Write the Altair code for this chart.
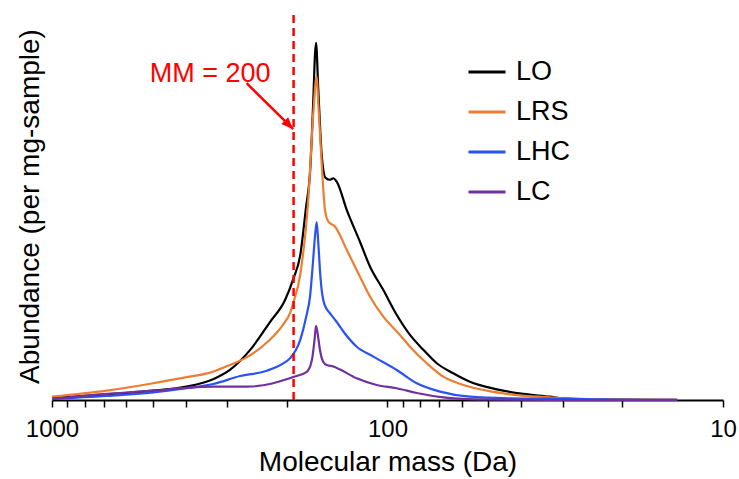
import altair as alt
import pandas as pd

FONT = "Liberation Sans"

series_names = ["LO", "LRS", "LHC", "LC"]
series_colors = ["#000000", "#ED7D31", "#2A52F5", "#7030A0"]

lo_mass = [1000, 687, 499, 397, 331, 295, 257, 224, 202, 191, 182, 175, 170, 166.4,
           164.5, 163.3, 160.8, 157.1, 153, 148.4, 145, 141.7, 132.3, 120.8, 112.8, 102.9,
           93.9, 85.7, 78.2, 71.3, 63.7, 56.8, 47.2, 39.4, 32.8, 30, 20.3, 13.7]
lo_ab = [0.45, 1.5, 2.45, 3.5, 5.45, 7.9, 13.1, 20.5, 26.3, 31.8, 38.1, 50.5, 60.5, 78.9,
         90.8, 93.9, 81.6, 64.5, 58.4, 57.9, 58.3, 57.4, 50.0, 41.6, 35.1, 28.9,
         22.4, 17.1, 13.2, 9.66, 7.03, 4.8, 2.8, 1.6, 0.87, 0.45, 0.13, 0.05]

lrs_mass = [1000, 687, 499, 397, 338, 295, 263, 229, 204, 195, 191, 182, 172, 166.4, 162.6,
            160.8, 157.1, 153.6, 150.1, 143.4, 132.3, 120.8, 112.8, 102.9, 91.8, 85.7, 76.4,
            68.2, 59.4, 50.6, 41.2, 32.8, 30, 20.3, 13.7]
lrs_ab = [0.87, 2.45, 4.4, 6.0, 7.2, 9.2, 11.2, 15.1, 20.0, 23.0, 25.5, 33.0, 53.5, 75.4, 85.1,
          78.0, 62.3, 50.0, 46.9, 45.6, 39.5, 32.4, 27.2, 21.9, 17.1, 14.0, 9.66,
          6.13, 3.95, 2.45, 1.3, 0.7, 0.45, 0.13, 0.05]

lhc_mass = [1000, 687, 499, 397, 331, 275, 229, 204, 195, 182, 175, 170, 166.6,
            164.5, 162.6, 160.8, 159, 157.1, 155.4, 151.8, 148.4, 141.7, 135.4, 123.5, 110.2,
            93.9, 81.8, 69.7, 56.8, 43.1, 32.8, 20.3, 13.7]
lhc_ab = [0.26, 1.05, 2.0, 3.1, 4.2, 6.3, 7.7, 9.7, 11.0, 15.8, 21.6, 27.6, 36.8,
          43.0, 46.8, 41.3, 34.2, 28.9, 26.3, 23.9, 22.8, 20.5, 18.0, 14.0, 11.4,
          7.9, 4.4, 2.2, 0.87, 0.45, 0.34, 0.08, 0.03]

lc_mass = [1000, 687, 499, 397, 331, 263, 219, 200, 191, 174, 168, 165, 163.3, 160.8, 159,
           155.4, 151.8, 145, 138.5, 123.5, 107.7, 93.9, 81.8, 68.2, 54.2, 32.8, 13.7]
lc_ab = [0.26, 1.6, 2.45, 3.2, 3.5, 3.5, 4.4, 5.45, 6.05, 7.4, 10.5, 15.8, 19.5, 16.3, 13.2,
         10.0, 9.2, 8.8, 8.0, 5.7, 3.95, 3.1, 1.85, 0.7, 0.18, 0.0, 0.0]

tick_values = [1000, 900, 800, 700, 600, 500, 400, 300, 200,
               100, 90, 80, 70, 60, 50, 40, 30, 20, 10]
label_values = [1000, 100, 10]

mm_line_mass = 190.5
y_top = 102
arrow_start = (263, 83.3)
arrow_end = (191, 71.2)
mm_text_pos = (338, 83.7)
mm_text = "MM = 200"

rows = []
for name, ms, ab in [("LO", lo_mass, lo_ab), ("LRS", lrs_mass, lrs_ab),
                     ("LHC", lhc_mass, lhc_ab), ("LC", lc_mass, lc_ab)]:
    for m, a in zip(ms, ab):
        rows.append({"series": name, "mass": m, "abundance": a})
df = pd.DataFrame(rows)

x_scale = alt.Scale(type="log", domain=[10, 1000], reverse=True, nice=False)
y_scale = alt.Scale(domain=[0, y_top], nice=False)

label_expr = "indexof([" + ",".join(str(v) for v in label_values) + "], datum.value) >= 0 ? datum.label : ''"

lines = alt.Chart(df).mark_line(strokeWidth=2.2, interpolate="monotone").encode(
    x=alt.X("mass:Q", scale=x_scale,
            axis=alt.Axis(values=tick_values, format="d", labelExpr=label_expr,
                          title="Molecular mass (Da)", labelOverlap=False, labelFlush=False,
                          tickSize=7, tickWidth=1.5, domainWidth=2, labelPadding=10,
                          titlePadding=7)),
    y=alt.Y("abundance:Q", scale=y_scale,
            axis=alt.Axis(labels=False, ticks=False, domain=False, grid=False,
                          title="Abundance (per mg-sample)", titlePadding=8)),
    color=alt.Color("series:N",
                    scale=alt.Scale(domain=series_names, range=series_colors),
                    legend=alt.Legend(title=None, orient="none", legendX=415, legendY=40,
                                      symbolType="stroke", symbolSize=1369,
                                      symbolStrokeWidth=3, labelFontSize=27,
                                      labelFont=FONT, labelColor="#000000",
                                      labelOffset=9, rowPadding=7, padding=0)),
)

vline = alt.Chart(pd.DataFrame({"mass": [mm_line_mass], "y0": [0], "y1": [y_top]})).mark_rule(
    color="#FF0000", strokeWidth=2.5, strokeDash=[8, 5]
).encode(x=alt.X("mass:Q", scale=x_scale), y=alt.Y("y0:Q", scale=y_scale), y2="y1:Q")

arrow_df = pd.DataFrame({"x0": [arrow_start[0]], "y0": [arrow_start[1]],
                         "x1": [arrow_end[0]], "y1": [arrow_end[1]]})
arrow_line = alt.Chart(arrow_df).mark_rule(color="#FF0000", strokeWidth=2.5).encode(
    x=alt.X("x0:Q", scale=x_scale), y=alt.Y("y0:Q", scale=y_scale), x2="x1:Q", y2="y1:Q")
arrow_head = alt.Chart(arrow_df).mark_point(
    shape="M0,0 L-0.8,2 L0.8,2 Z", filled=True, color="#FF0000", size=144, angle=135, opacity=1
).encode(x=alt.X("x1:Q", scale=x_scale), y=alt.Y("y1:Q", scale=y_scale))

mm_label = alt.Chart(pd.DataFrame({"x": [mm_text_pos[0]], "y": [mm_text_pos[1]], "t": [mm_text]})).mark_text(
    color="#FF0000", fontSize=27, font=FONT, align="center", baseline="alphabetic"
).encode(x=alt.X("x:Q", scale=x_scale), y=alt.Y("y:Q", scale=y_scale), text="t:N")

chart = alt.layer(lines, vline, arrow_line, arrow_head, mm_label).properties(
    width=671, height=388,
    autosize=alt.AutoSizeParams(type="none"),
    padding={"left": 52, "top": 12, "right": 16, "bottom": 79},
).configure_view(stroke=None).configure_axis(
    labelFont=FONT, titleFont=FONT, labelFontSize=24, titleFontSize=28,
    titleFontWeight="normal", labelColor="#000000", titleColor="#000000",
    domainColor="#000000", tickColor="#000000", grid=False
)

chart.save("out.html", embed_options={"renderer": "svg", "actions": False})
